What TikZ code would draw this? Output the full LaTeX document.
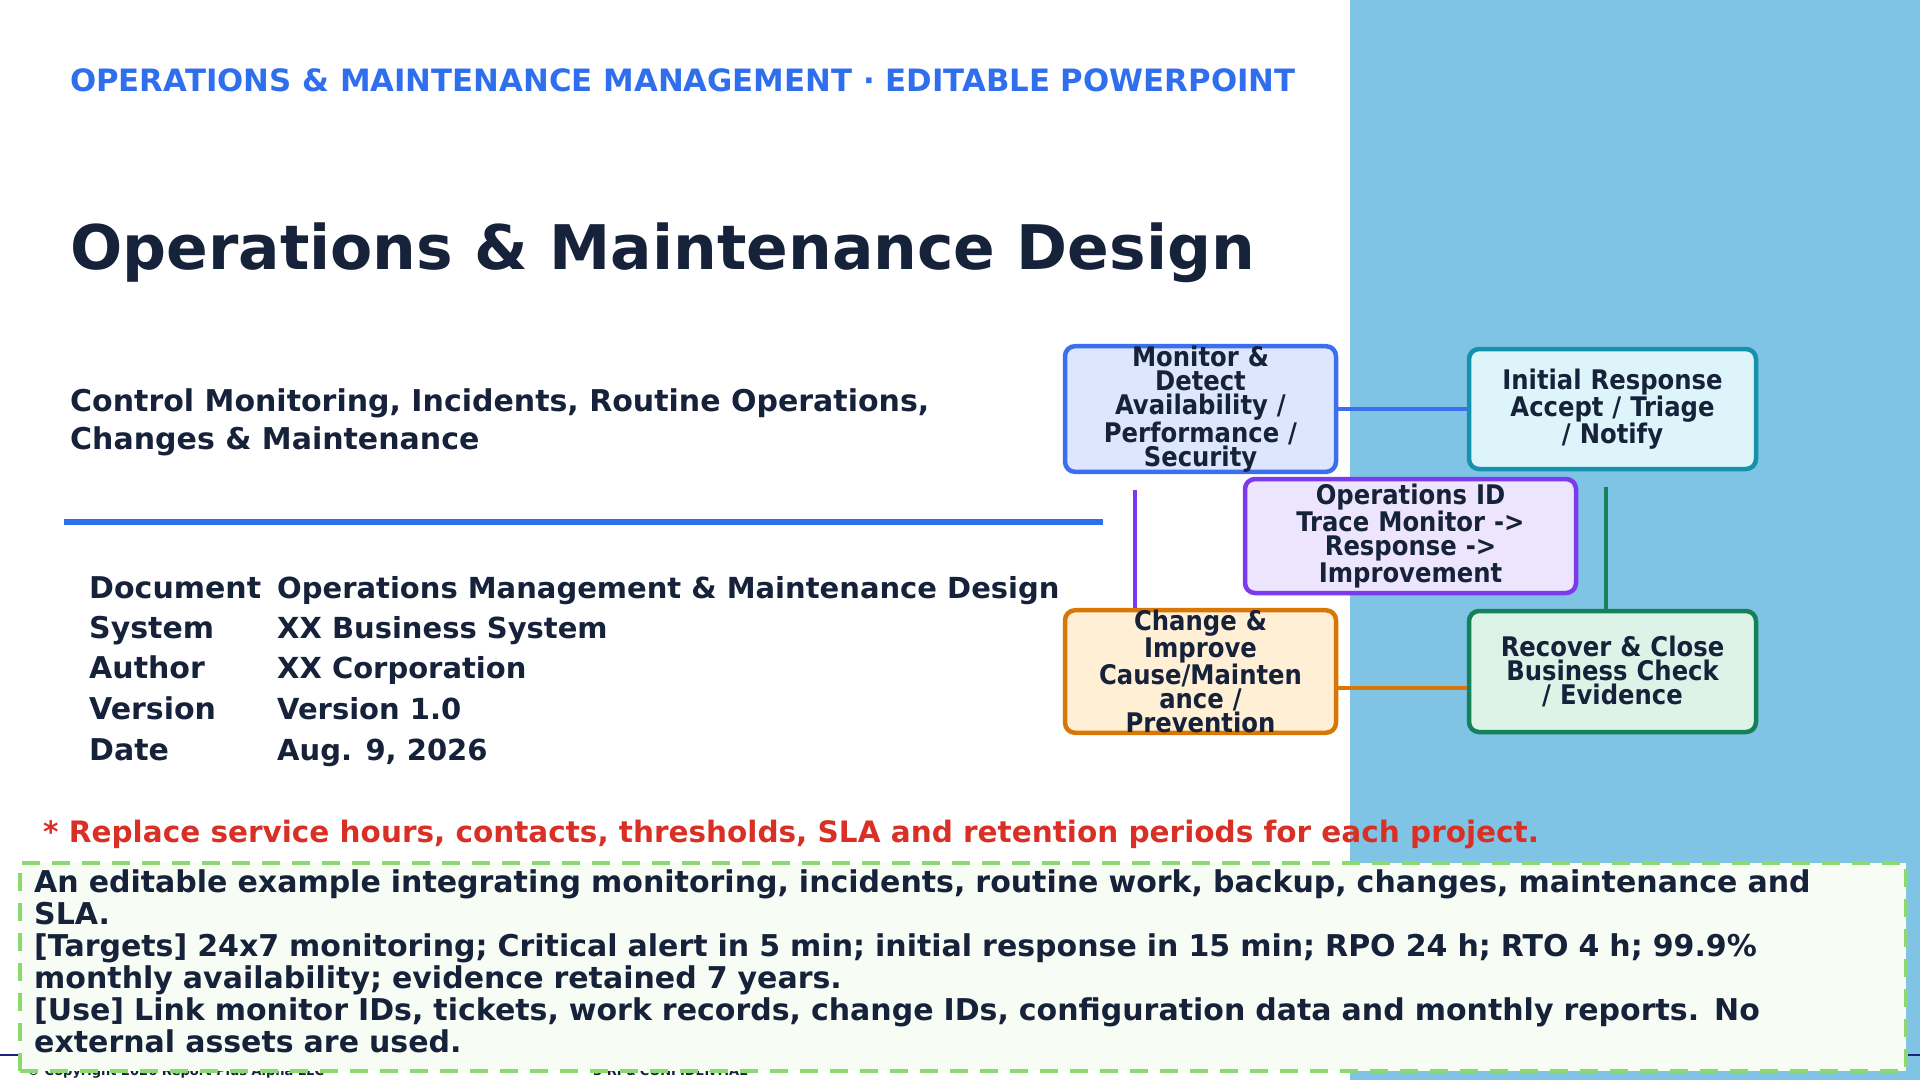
\documentclass[tikz,border=0pt]{standalone}
\usepackage{fontspec}
\setmainfont{DejaVu Sans}
\newfontfamily\condfont{DejaVu Sans Condensed}
\usetikzlibrary{positioning}
\definecolor{headblue}{HTML}{2F6FED}
\definecolor{inkdark}{HTML}{16213A}
\definecolor{panelblue}{HTML}{7FC4E4}
\definecolor{notered}{HTML}{D93025}
\definecolor{dashgreen}{HTML}{8BD96F}
\definecolor{notefill}{HTML}{F7FDF5}
\definecolor{footnavy}{HTML}{1A237E}
\definecolor{monline}{HTML}{3B6FF0}\definecolor{monfill}{HTML}{DCE6FD}
\definecolor{iniline}{HTML}{1491AD}\definecolor{inifill}{HTML}{DDF5FA}
\definecolor{opsline}{HTML}{7C3AED}\definecolor{opsfill}{HTML}{EDE4FD}
\definecolor{chgline}{HTML}{D97706}\definecolor{chgfill}{HTML}{FEEFD5}
\definecolor{recline}{HTML}{15805A}\definecolor{recfill}{HTML}{DEF3E8}
\tikzset{
  stage/.style = {draw, line width=4.5pt, rounded corners=10pt, align=center,
                 inner sep=0pt,
                 font=\condfont\bfseries\fontsize{27}{24}\selectfont},
  link/.style = {line width=4pt},
  plain/.style = {anchor=base west, text=inkdark, inner sep=0pt,
                  font=\bfseries\fontsize{30}{30}\selectfont}
}
\begin{document}
\begin{tikzpicture}[x=1pt, y=-1pt]
            \useasboundingbox (0,0) rectangle (1920,1080);
            \fill[panelblue] (1350,0) rectangle (1920,1080);
            % heading
            \node[plain, text=headblue, font=\bfseries\fontsize{30.8}{30}\selectfont] (head) at (70,91)
                {OPERATIONS \& MAINTENANCE MANAGEMENT · EDITABLE POWERPOINT};
            \node[plain, font=\bfseries\fontsize{61.5}{62}\selectfont] (title) at (70,269)
                {Operations \& Maintenance Design};
            \node[plain, align=left, font=\bfseries\fontsize{30}{38}\selectfont] (sub) at (70,449)
                {Control Monitoring, Incidents, Routine Operations,\\Changes \& Maintenance};
            \draw[headblue, line width=6pt] (64,522) -- (1103,522);
            % document table
            \foreach \y/\k/\v in {598/Document/Operations Management \& Maintenance Design,
                                  638/System/XX Business System,
                                  678/Author/XX Corporation,
                                  719/Version/Version 1.0,
                                  760/Date/{Aug. 9, 2026}}{
                \node[plain] at (89,\y) {\k};
                \node[plain, font=\bfseries\fontsize{29}{30}\selectfont] at (277,\y) {\v};
            }
            \node[plain, text=notered, font=\bfseries\fontsize{29.5}{30}\selectfont] (note) at (43,842)
                {* Replace service hours, contacts, thresholds, SLA and retention periods for each project.};
            % footer
            \draw[footnavy, line width=1.5pt] (0,1055) -- (1920,1055);
            \node[plain, font=\bfseries\fontsize{13}{13}\selectfont] at (27,1075) {© Copyright 2026 Report Plus Alpha LLC};
            \node[plain, font=\bfseries\fontsize{13}{13}\selectfont] at (593,1075) {3 RPα CONFIDENTIAL};
            % cycle
            \node[stage, draw=monline, fill=monfill, minimum width=271pt, minimum height=120pt, text width=250pt, text=inkdark] (monitor) at (1200.5,409)
                {Monitor \&\\Detect\\Availability /\\Performance /\\Security};
            \node[stage, draw=iniline, fill=inifill, minimum width=287pt, minimum height=120pt, text width=270pt, text=inkdark] (initial) at (1612.5,409)
                {Initial Response\\Accept / Triage\\/ Notify};
            \node[stage, draw=opsline, fill=opsfill, minimum width=331pt, minimum height=114pt, text width=310pt, text=inkdark] (opsid) at (1410.5,536)
                {Operations ID\\Trace Monitor ->\\Response ->\\Improvement};
            \node[stage, draw=chgline, fill=chgfill, minimum width=271pt, minimum height=121pt, text width=250pt, text=inkdark] (change) at (1200.5,671.5)
                {Change \&\\Improve\\Cause/Mainten\\ance /\\Prevention};
            \node[stage, draw=recline, fill=recfill, minimum width=287pt, minimum height=121pt, text width=270pt, text=inkdark] (recover) at (1612.5,671.5)
                {Recover \& Close\\Business Check\\/ Evidence};
            \draw[link, monline] (monitor.east) -- (initial.west);
            \draw[link, chgline] ([yshift=-16pt]change.east) -- ([yshift=-16pt]recover.west);
            \draw[link, opsline] ([xshift=-66pt,yshift=-16pt]monitor.south) -- ([xshift=-66pt]change.north);
            \draw[link, recline] ([xshift=-7pt,yshift=-16pt]initial.south) -- ([xshift=-7pt]recover.north);
            % notes box
            \node[draw=dashgreen, fill=notefill, line width=4pt, dash pattern=on 18pt off 12pt,
                  minimum width=1886pt, minimum height=208pt, anchor=north west, inner sep=0pt] (notes) at (18,861) {};
            \node[plain, anchor=north west, align=left, text width=1850pt,
                  font=\bfseries\fontsize{30}{32}\selectfont] (notetext) at (34,869)
                {An editable example integrating monitoring, incidents, routine work, backup, changes, maintenance and\\SLA.\\
                 {[}Targets] 24x7 monitoring; Critical alert in 5 min; initial response in 15 min; RPO 24 h; RTO 4 h; 99.9\%\\monthly availability; evidence retained 7 years.\\
                 {[}Use] Link monitor IDs, tickets, work records, change IDs, configuration data and monthly reports. No\\external assets are used.};
\end{tikzpicture}
\end{document}
